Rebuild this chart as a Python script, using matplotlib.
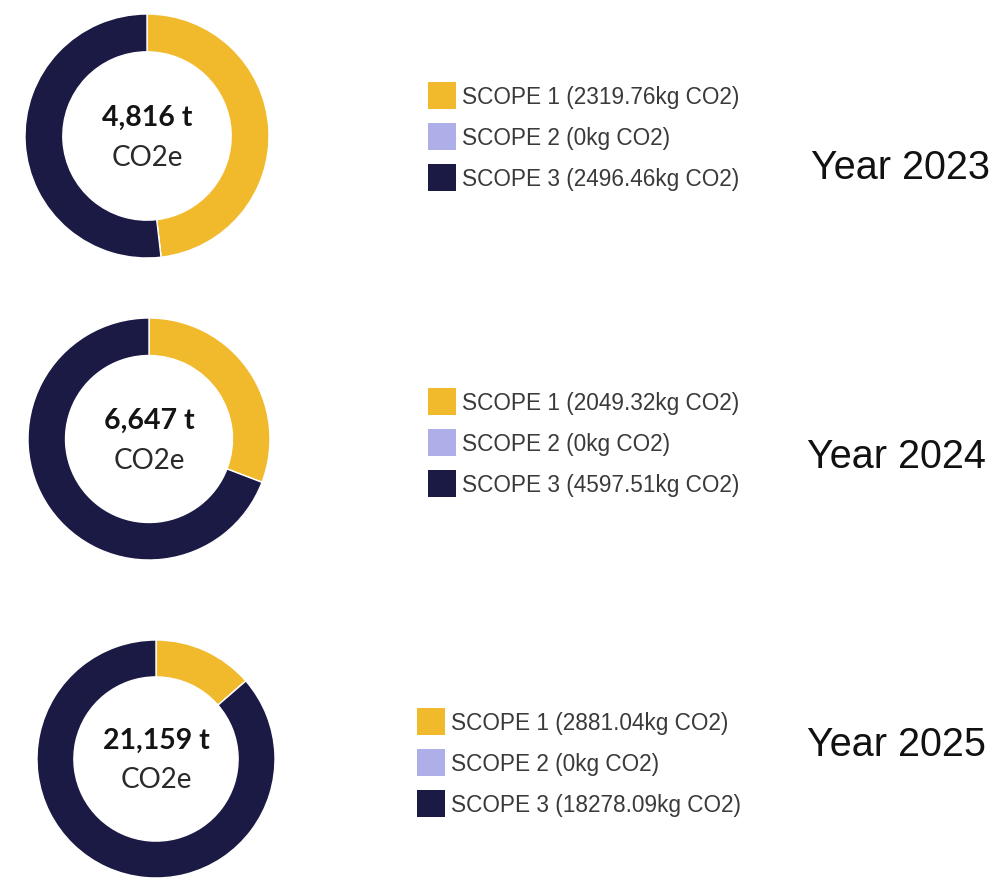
import matplotlib
matplotlib.use("Agg")
import matplotlib.pyplot as plt
from matplotlib.patches import Patch

years = ["2023", "2024", "2025"]
scope_names = ["SCOPE 1", "SCOPE 2", "SCOPE 3"]
scope1 = [2319.76, 2049.32, 2881.04]
scope2 = [0, 0, 0]
scope3 = [2496.46, 4597.51, 18278.09]
totals = ["4,816", "6,647", "21,159"]

colors = ["#F0BA2C", "#AEAEE8", "#1A1A45"]

W, H = 995, 879
fig = plt.figure(figsize=(W / 100, H / 100), dpi=100)
fig.patch.set_facecolor("white")

# layout in pixels (center x, center y, radius)
donut_geo = [(147, 137, 122), (149, 440, 121), (156, 760, 119)]
legend_geo = [(428, 83), (428, 389), (417, 709)]  # top-left of legend box
year_geo = [(811, 168), (807, 457), (807, 745)]


def fx(x):
    return x / W


def fy(y):
    return 1 - y / H


def fmt(v):
    s = f"{v:.2f}".rstrip("0").rstrip(".")
    return s


for i in range(3):
    cx, cy, r = donut_geo[i]
    ax = fig.add_axes([fx(cx - r), fy(cy + r), 2 * r / W, 2 * r / H])
    vals = [scope1[i], scope2[i], scope3[i]]
    ax.pie(vals, colors=colors, startangle=90, counterclock=False, radius=1,
           wedgeprops=dict(width=0.31, edgecolor="white", linewidth=1.0))
    ax.set_xlim(-1, 1)
    ax.set_ylim(-1, 1)
    ax.set_aspect("auto")
    ax.axis("off")
    ax.text(0, 0.16, f"{totals[i]} t", ha="center", va="center",
            fontsize=20.5, fontweight="bold", family="Lato", color="#141414")
    ax.text(0, -0.17, "CO2e", ha="center", va="center",
            fontsize=20, family="Lato", color="#2a2a2a")

    lx, ly = legend_geo[i]
    handles = [Patch(facecolor=c, edgecolor="none") for c in colors]
    labels = [f"{n} ({fmt(v)}kg CO2)" for n, v in zip(scope_names, vals)]
    fig.legend(handles, labels, loc="upper left",
               bbox_to_anchor=(fx(lx), fy(ly)), bbox_transform=fig.transFigure,
               frameon=False, borderpad=0, borderaxespad=0,
               handlelength=1.24, handleheight=1.46, handletextpad=0.27,
               labelspacing=0.62,
               prop=dict(family="Liberation Sans", size=16.3),
               labelcolor="#3a3a3a")

    yx, yy = year_geo[i]
    fig.text(fx(yx), fy(yy), f"Year {years[i]}", ha="left", va="center",
             fontsize=28.5, family="Liberation Sans", color="#111111")

fig.savefig("out.png", dpi=100, facecolor="white")
